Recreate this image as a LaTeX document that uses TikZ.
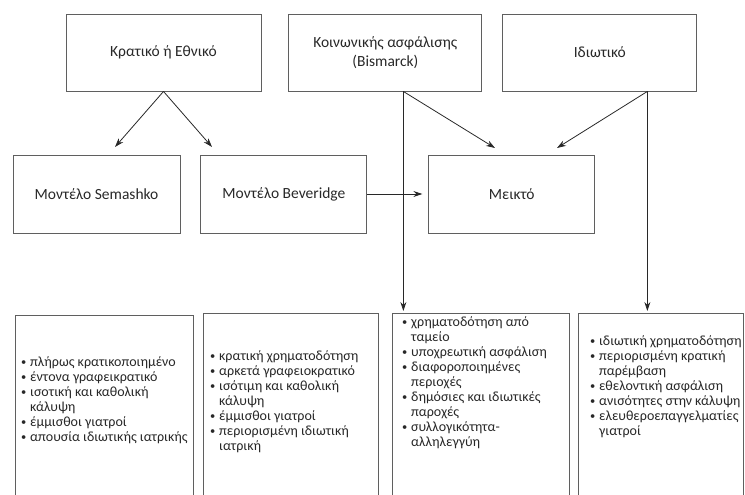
\documentclass[tikz,border=0pt]{standalone}
\usepackage{fontspec}
\setmainfont{Carlito}
\usetikzlibrary{
  arrows.meta,
  positioning,
  calc
}
\definecolor{inkgray}{RGB}{40,40,40}
\definecolor{framegray}{RGB}{95,95,95}
\newcommand{\bul}{\makebox[9pt][l]{\raisebox{0.15ex}{\scalebox{0.75}{\textbullet}}}}

\tikzset{
  typebox/.style={draw=framegray, line width=0.9pt, text=inkgray, align=center,
    font=\fontsize{15.5}{19}\selectfont, minimum width=#1, minimum height=77pt, inner sep=2pt},
  typebox/.default=194pt,
  listbox/.style={draw=framegray, line width=0.9pt, anchor=north west,
    minimum width=#1, minimum height=200pt},
  listtext/.style={anchor=north west, inner sep=0pt, text=inkgray,
    font=\fontsize{14}{15}\selectfont},
  link/.style={draw=inkgray, line width=0.8pt, -{Stealth[length=9pt,width=6pt]}}
}

\begin{document}
\begin{tikzpicture}[x=1pt, y=-1pt]
  \useasboundingbox (0,0) rectangle (745,495);
  \clip (0,0) rectangle (745,495);

  % health system types
  \node[typebox=195pt] (nat) at (163.5,52.5) {Κρατικό ή Εθνικό};
  \node[typebox=193pt, right=27pt of nat] (soc) {Κοινωνικής ασφάλισης\\(Bismarck)};
  \node[typebox=194pt, right=20pt of soc] (pri) {Ιδιωτικό};

  % models
  \node[typebox=167pt, minimum height=78pt] (sem) at (96.5,194) {Μοντέλο Semashko};
  \node[typebox=166pt, minimum height=78pt, right=20pt of sem] (bev) {Μοντέλο Beveridge};
  \node[typebox=166pt, minimum height=78pt, right=61pt of bev] (mix) {Μεικτό};

  % characteristics
  \node[listbox=178pt] (chsem) at (15,315) {};
  \node[listbox=175pt] (chbev) at (203,313) {};
  \node[listbox=177pt] (chsoc) at (392,313) {};
  \node[listbox=165pt] (chpri) at (578,313) {};

  \node[listtext] (txsem) at ($(chsem.north west)+(6,41)$) {\begin{tabular}{@{}l@{}l@{}}
    \bul & πλήρως κρατικοποιημένο\\
    \bul & έντονα γραφεικρατικό\\
    \bul & ισοτική και καθολική\\
         & κάλυψη\\
    \bul & έμμισθοι γιατροί\\
    \bul & απουσία ιδιωτικής ιατρικής
  \end{tabular}};
  \node[listtext] (txbev) at ($(chbev.north west)+(7,37)$) {\begin{tabular}{@{}l@{}l@{}}
    \bul & κρατική χρηματοδότηση\\
    \bul & αρκετά γραφειοκρατικό\\
    \bul & ισότιμη και καθολική\\
         & κάλυψη\\
    \bul & έμμισθοι γιατροί\\
    \bul & περιορισμένη ιδιωτική\\
         & ιατρική
  \end{tabular}};
  \node[listtext] (txsoc) at ($(chsoc.north west)+(10,3)$) {\begin{tabular}{@{}l@{}l@{}}
    \bul & χρηματοδότηση από\\
         & ταμείο\\
    \bul & υποχρεωτική ασφάλιση\\
    \bul & διαφοροποιημένες\\
         & περιοχές\\
    \bul & δημόσιες και ιδιωτικές\\
         & παροχές\\
    \bul & συλλογικότητα-\\
         & αλληλεγγύη
  \end{tabular}};
  \node[listtext] (txpri) at ($(chpri.north west)+(12,22)$) {\begin{tabular}{@{}l@{}l@{}}
    \bul & ιδιωτική χρηματοδότηση\\
    \bul & περιορισμένη κρατική\\
         & παρέμβαση\\
    \bul & εθελοντική ασφάλιση\\
    \bul & ανισότητες στην κάλυψη\\
    \bul & ελευθεροεπαγγελματίες\\
         & γιατροί
  \end{tabular}};

  % arrow ends
  \coordinate (semin) at (115,147);
  \coordinate (bevin) at (212,147);
  \coordinate (socfoot) at ($(soc.south east)+(-79,0)$);
  \coordinate (prifoot) at ($(pri.south west)+(145,0)$);
  \coordinate (mixinl) at (495,148);
  \coordinate (mixinr) at (557,148);

  \draw[link] (nat.south) -- (semin);
  \draw[link] (nat.south) -- (bevin);
  \draw[link] (socfoot) -- (mixinl);
  \draw[link] (prifoot) -- (mixinr);
  \draw[link, shorten >=2pt] (socfoot) -- (socfoot |- chsoc.north);
  \draw[link, shorten >=2pt] (prifoot) -- (prifoot |- chpri.north);
  \draw[link, shorten >=6pt] (bev) -- (mix);
\end{tikzpicture}
\end{document}
